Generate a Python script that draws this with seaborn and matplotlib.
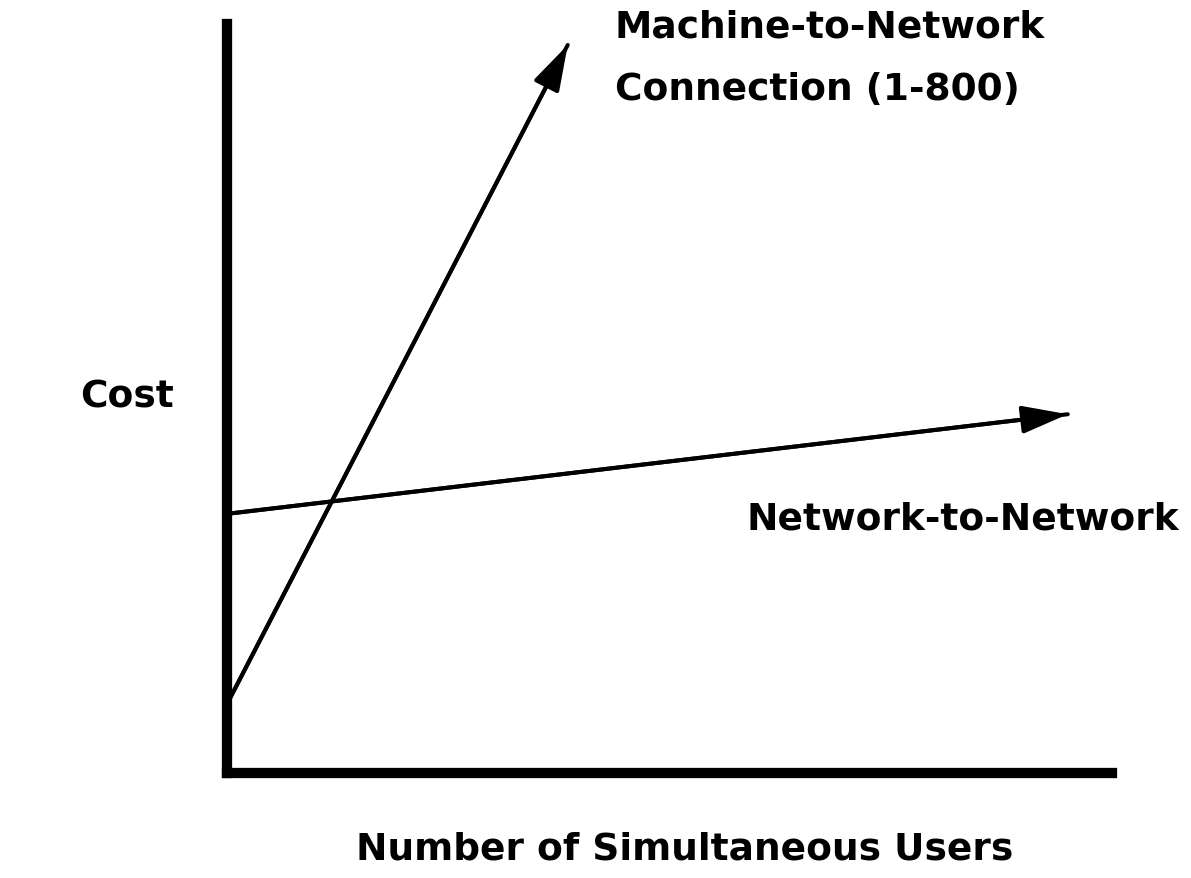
import pandas as pd
import matplotlib
matplotlib.use("Agg")
import matplotlib.pyplot as plt
import seaborn as sns

# line endpoints (users, cost) in arbitrary units
m2n_users = [0.0, 3.85]
m2n_cost = [0.92, 9.72]
n2n_users = [0.0, 9.50]
n2n_cost = [3.46, 4.79]

sns.set_style("white")
plt.rcParams["font.family"] = ["DejaVu Sans"]

W, H = 1191, 879
fig = plt.figure(figsize=(W / 100, H / 100), dpi=100)
# axes box in pixels: left 227, right 1112, top 25, bottom 774
ax = fig.add_axes([227 / W, 1 - 774 / H, (1112 - 227) / W, (774 - 25) / H])
ax.set_xlim(0, 10)
ax.set_ylim(0, 10)

df = pd.DataFrame({
    "users": m2n_users + n2n_users,
    "cost": m2n_cost + n2n_cost,
    "link": ["m2n", "m2n", "n2n", "n2n"],
})
sns.lineplot(data=df, x="users", y="cost", units="link", estimator=None,
             color="black", linewidth=2.9, ax=ax, clip_on=False)

for xs, ys in [(m2n_users, m2n_cost), (n2n_users, n2n_cost)]:
    ax.annotate("", xy=(xs[1], ys[1]), xytext=(xs[0], ys[0]),
                arrowprops=dict(arrowstyle="-|>,head_length=2.8,head_width=0.85",
                                mutation_scale=10, color="black", lw=2.9,
                                shrinkA=0, shrinkB=0),
                annotation_clip=False)

for side in ["top", "right"]:
    ax.spines[side].set_visible(False)
for side in ["left", "bottom"]:
    ax.spines[side].set_linewidth(7.4)
    ax.spines[side].set_color("black")
ax.set_xticks([])
ax.set_yticks([])
ax.set_xlabel("")
ax.set_ylabel("")

kw = dict(fontsize=27, fontweight="bold", va="baseline", color="black")
fig.text(615 / W, 1 - 38 / H, "Machine-to-Network", **kw)
fig.text(615 / W, 1 - 100 / H, "Connection (1-800)", **kw)
fig.text(80 / W, 1 - 407 / H, "Cost", **kw)
fig.text(747 / W, 1 - 530 / H, "Network-to-Network", **kw)
fig.text(685 / W, 1 - 860 / H, "Number of Simultaneous Users", ha="center", **kw)

fig.savefig("out.png", dpi=100)
